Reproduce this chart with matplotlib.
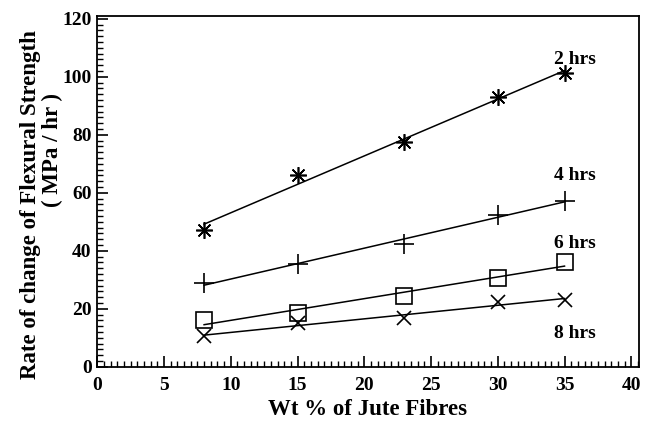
import numpy as np
import matplotlib
matplotlib.use("Agg")
import matplotlib.pyplot as plt
from matplotlib.ticker import MultipleLocator

plt.rcParams['font.family'] = ['Liberation Serif', 'DejaVu Serif']
plt.rcParams['font.weight'] = 'bold'

# fibre content (wt %)
wt = [8, 15, 23, 30, 35]

# rate of change of flexural strength (MPa/hr) for each ageing time
rate_2h = [47.1, 66.1, 77.6, 93.1, 101.2]
rate_4h = [29.0, 35.3, 42.2, 52.5, 57.2]
rate_6h = [16.1, 18.6, 24.3, 30.5, 36.2]
rate_8h = [10.6, 15.0, 16.8, 22.4, 23.0]

series_labels = ['2 hrs', '4 hrs', '6 hrs', '8 hrs']
label_pos = [(35.8, 106.0), (35.8, 66.0), (35.8, 42.6), (35.8, 11.6)]

fig = plt.figure(figsize=(6.53, 4.28), dpi=100)
ax = fig.add_axes([0.149, 0.143, 0.830, 0.820])

x = np.array(wt, dtype=float)
markers = [dict(marker=(8, 2, 0), ms=12, mew=1.2),
           dict(marker='+', ms=14, mew=1.2),
           dict(marker='s', ms=12, mew=1.2, mfc='none'),
           dict(marker='x', ms=10, mew=1.2)]

for y, mk in zip([rate_2h, rate_4h, rate_6h, rate_8h], markers):
    y = np.array(y)
    ax.plot(x, y, ls='none', color='black', **mk)
    # least-squares trend line through the measured points
    k, b = np.polyfit(x, y, 1)
    ax.plot(x[[0, -1]], k * x[[0, -1]] + b, color='black', lw=1.1)

for lab, (lx, ly) in zip(series_labels, label_pos):
    ax.text(lx, ly, lab, ha='center', va='center', fontsize=14, fontweight='bold')

ax.set_xlim(0, 40.6)
ax.set_ylim(0, 121)
ax.set_xticks(np.arange(0, 41, 5))
ax.set_yticks(np.arange(0, 121, 20))
ax.xaxis.set_minor_locator(MultipleLocator(0.5))
ax.yaxis.set_minor_locator(MultipleLocator(2))
ax.tick_params(which='both', direction='in', top=False, right=False)
ax.tick_params(which='major', length=8, width=1.2, labelsize=14)
ax.tick_params(axis='x', which='major', pad=7)
ax.tick_params(axis='y', which='major', pad=4)
ax.tick_params(which='minor', length=4, width=1.0)
for lbl in ax.get_xticklabels() + ax.get_yticklabels():
    lbl.set_fontweight('bold')
for s in ax.spines.values():
    s.set_linewidth(1.3)

# axis titles
fig.text(0.563, 0.044, 'Wt % of Jute Fibres', ha='center', va='center',
         fontsize=16.5, fontweight='bold')
fig.text(0.046, 0.523, 'Rate of change of Flexural Strength', rotation=90,
         ha='center', va='center', fontsize=16.5, fontweight='bold')
fig.text(0.081, 0.650, '( MPa / hr )', rotation=90,
         ha='center', va='center', fontsize=16.5, fontweight='bold')

fig.savefig('out.png', dpi=100)
